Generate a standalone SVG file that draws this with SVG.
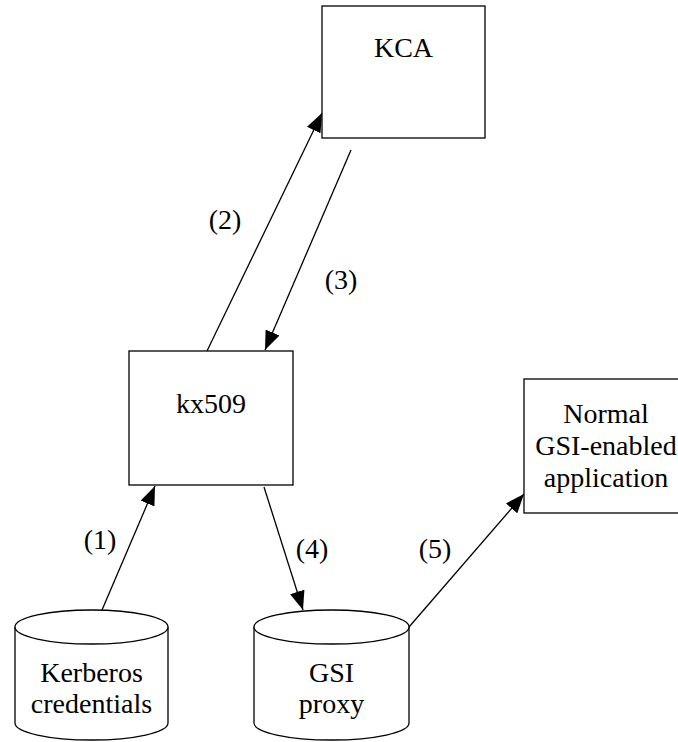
<svg xmlns="http://www.w3.org/2000/svg" width="678" height="742" viewBox="0 0 678 742">
<style>
.box{fill:#fff;stroke:#000;stroke-width:1.3}
.t{font-family:"Liberation Serif","Times New Roman",serif;font-size:28px;fill:#000;text-anchor:middle}
.c{fill:none;stroke:#000;stroke-width:1.3;marker-end:url(#ah)}
</style>
<defs>
<marker id="ah" markerWidth="20" markerHeight="15" refX="19" refY="7.5" orient="auto" markerUnits="userSpaceOnUse">
<path d="M0,0 L19,7.5 L0,15 z" fill="#000"/>
</marker>
</defs>
<rect width="678" height="742" fill="#fff"/>
<g id="connectors">
<line class="c" x1="102" y1="610" x2="155" y2="486"/>
<line class="c" x1="207" y1="351" x2="322" y2="113"/>
<line class="c" x1="351" y1="150" x2="265" y2="350"/>
<line class="c" x1="264" y1="487" x2="303" y2="610"/>
<line class="c" x1="409" y1="627" x2="524" y2="494"/>
<text class="t" x="100" y="549">(1)</text>
<text class="t" x="225" y="229">(2)</text>
<text class="t" x="341" y="289">(3)</text>
<text class="t" x="312" y="558">(4)</text>
<text class="t" x="435" y="558">(5)</text>
</g>
<g id="kca">
<rect class="box" x="322" y="6" width="163" height="132"/>
<text class="t" x="403.5" y="57">KCA</text>
</g>
<g id="kx509">
<rect class="box" x="129" y="351" width="164" height="134"/>
<text class="t" x="211" y="413">kx509</text>
</g>
<g id="normal">
<rect class="box" x="524" y="379" width="163" height="134"/>
<text class="t" x="606" y="423">Normal</text>
<text class="t" x="606" y="455">GSI-enabled</text>
<text class="t" x="606" y="487">application</text>
</g>
<g id="kerberos">
<path class="box" d="M15,627 L15,723 A76.5,17 0 0 0 168,723 L168,627"/>
<ellipse class="box" cx="91.5" cy="627" rx="76.5" ry="17"/>
<text class="t" x="91.5" y="682">Kerberos</text>
<text class="t" x="91.5" y="713">credentials</text>
</g>
<g id="gsiproxy">
<path class="box" d="M254,627 L254,723 A77.5,17 0 0 0 409,723 L409,627"/>
<ellipse class="box" cx="331.5" cy="627" rx="77.5" ry="17"/>
<text class="t" x="331.5" y="682">GSI</text>
<text class="t" x="331.5" y="713">proxy</text>
</g>
</svg>
